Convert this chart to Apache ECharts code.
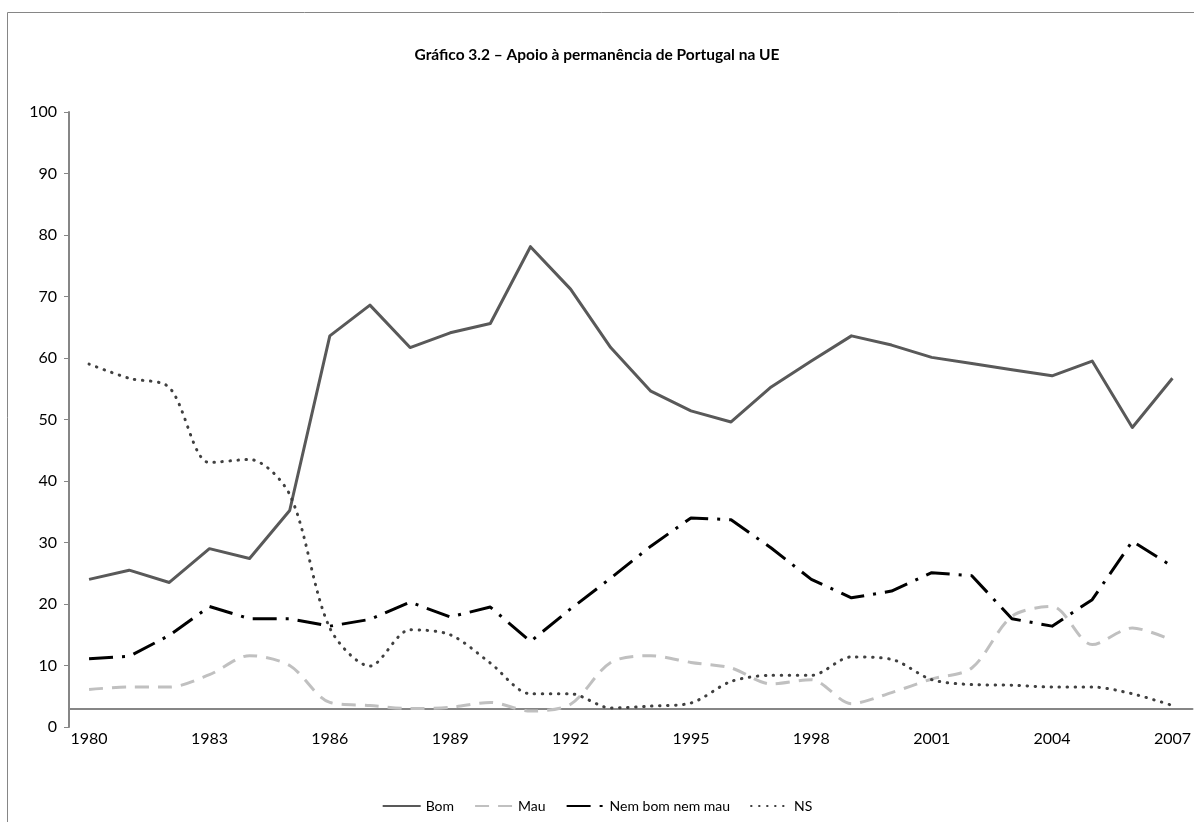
<!DOCTYPE html>
<html>
<head>
<meta charset="utf-8">
<title>Gráfico 3.2</title>
<script src="https://cdn.jsdelivr.net/npm/echarts@6/dist/echarts.min.js"></script>
<style>
	html, body { margin: 0; padding: 0; background: #fff; }
	#chart { width: 1194px; height: 822px; }
</style>
</head>
<body>
<div id="chart"></div>
<script>
var years = ['1980', '1981', '1982', '1983', '1984', '1985', '1986', '1987', '1988', '1989',
	'1990', '1991', '1992', '1993', '1994', '1995', '1996', '1997', '1998', '1999',
	'2000', '2001', '2002', '2003', '2004', '2005', '2006', '2007'];

var bom = [24, 25.5, 23.5, 29, 27.4, 35.2, 63.6, 68.6, 61.7, 64.1,
	65.6, 78.1, 71.2, 61.7, 54.6, 51.4, 49.6, 55.3, 59.5, 63.6,
	62.1, 60.1, 59.1, 58.1, 57.1, 59.5, 48.7, 56.7];

var mau = [6.1, 6.5, 6.5, 8.5, 11.6, 10, 4, 3.5, 3, 3.2,
	4, 2.6, 3.7, 10.5, 11.6, 10.5, 9.6, 7, 7.7, 3.8,
	5.6, 7.8, 9.6, 18, 19.6, 13.4, 16.1, 14.1];

var nem = [11.1, 11.5, 14.9, 19.6, 17.6, 17.6, 16.4, 17.5, 20.3, 17.9,
	19.5, 13.9, 19.2, 24.2, 29.4, 34, 33.7, 29.1, 24, 21,
	22.1, 25.1, 24.6, 17.6, 16.4, 20.7, 30.2, 26.1];

var ns = [59, 56.7, 55.2, 43, 43.5, 37.8, 16.1, 9.9, 15.8, 15,
	10.4, 5.4, 5.4, 3.1, 3.4, 3.9, 7.4, 8.4, 8.4, 11.4,
	11, 7.7, 6.9, 6.8, 6.5, 6.5, 5.4, 3.5];

var yTicks = { min: 0, max: 100, step: 10 };
var axisBase = 3;			// o eixo das categorias cruza em 3

var fontName = 'Lato',
	axisColor = '#868686';

var chart = echarts.init(document.getElementById('chart'), null, { renderer: 'canvas' });

var gridTop = 112,
	gridBottom = 95,
	plotH = 822 - gridTop - gridBottom;

function lineSeries(name, data, color, width, dash, smooth) {
	return {
		name: name,
		type: 'line',
		data: data,
		symbol: 'none',
		smooth: smooth || false,
		silent: true,
		lineStyle: {
			color: color,
			width: width,
			type: dash,
			cap: name === 'NS' ? 'round' : 'butt',
			join: 'round'
		},
		itemStyle: { color: color }
	};
}

chart.setOption({
	animation: false,
	textStyle: { fontFamily: fontName },
	graphic: [{
		type: 'rect',
		shape: { x: 7.5, y: 12.5, width: 1200, height: 820 },
		style: { fill: 'none', stroke: axisColor, lineWidth: 1 },
		silent: true
	}],
	title: {
		text: 'Gráfico 3.2 – Apoio à permanência de Portugal na UE',
		left: 'center',
		top: 42,
		textStyle: { fontFamily: fontName, fontWeight: 'bold', fontSize: 15.5, color: '#000' }
	},
	legend: {
		bottom: 4,
		left: 'center',
		itemWidth: 38,
		itemHeight: 12,
		itemGap: 20,
		itemStyle: { opacity: 0 },
		textStyle: { fontFamily: fontName, fontSize: 14, color: '#000' },
		data: ['Bom', 'Mau', 'Nem bom nem mau', 'NS']
	},
	grid: { left: 69, right: 1, top: gridTop, bottom: gridBottom },
	xAxis: {
		type: 'category',
		data: years,
		boundaryGap: true,
		offset: -(axisBase / (yTicks.max - yTicks.min)) * plotH,
		axisLine: { lineStyle: { color: axisColor, width: 2 } },
		axisTick: { interval: 2, length: 5, lineStyle: { color: axisColor, width: 1 } },
		axisLabel: { interval: 2, margin: 22, fontSize: 16, color: '#000', fontFamily: fontName },
		splitLine: { show: false }
	},
	yAxis: {
		type: 'value',
		min: yTicks.min,
		max: yTicks.max,
		interval: yTicks.step,
		axisLine: { show: true, lineStyle: { color: axisColor, width: 2 } },
		axisTick: { show: true, length: 5, lineStyle: { color: axisColor, width: 1 } },
		axisLabel: { margin: 12, fontSize: 16, color: '#000', fontFamily: fontName },
		splitLine: { show: false }
	},
	series: [
		lineSeries('Bom', bom, '#595959', 3, 'solid'),
		lineSeries('Mau', mau, '#c0c0c0', 3, [14, 9], 0.3),
		lineSeries('Nem bom nem mau', nem, '#000000', 3, [24, 9, 3, 9]),
		lineSeries('NS', ns, '#404040', 3, [0.5, 7.5], 0.3)
	]
});
</script>
</body>
</html>
